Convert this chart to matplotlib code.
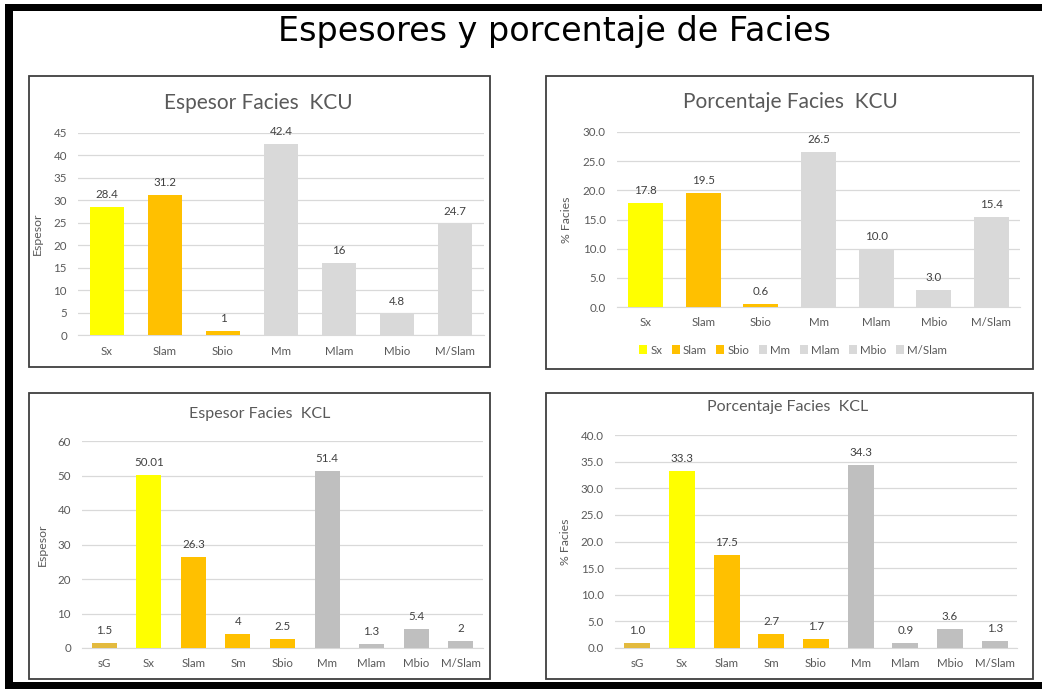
import numpy as np
import matplotlib
matplotlib.use('Agg')
import matplotlib.pyplot as plt
from matplotlib.patches import Rectangle, Patch
from matplotlib.ticker import FormatStrFormatter

W, H = 1042, 691

cats_kcu = ['Sx', 'Slam', 'Sbio', 'Mm', 'Mlam', 'Mbio', 'M/Slam']
esp_kcu = [28.4, 31.2, 1, 42.4, 16, 4.8, 24.7]
pct_kcu = [17.8, 19.5, 0.6, 26.5, 10.0, 3.0, 15.4]

cats_kcl = ['sG', 'Sx', 'Slam', 'Sm', 'Sbio', 'Mm', 'Mlam', 'Mbio', 'M/Slam']
esp_kcl = [1.5, 50.01, 26.3, 4, 2.5, 51.4, 1.3, 5.4, 2]
pct_kcl = [1.0, 33.3, 17.5, 2.7, 1.7, 34.3, 0.9, 3.6, 1.3]

YELLOW = '#FFFF00'
ORANGE = '#FFC000'
GOLD = '#E3BA3E'
LGRAY = '#D9D9D9'
MGRAY = '#BFBFBF'
TXT = '#595959'

colors_kcu = [YELLOW, ORANGE, ORANGE, LGRAY, LGRAY, LGRAY, LGRAY]
colors_kcl = [GOLD, YELLOW, ORANGE, ORANGE, ORANGE, MGRAY, MGRAY, MGRAY, MGRAY]

FONT = 'Lato'
SMALL = 8.3


def fig_box(x0, y0, x1, y1):
    # pixel box (top-left origin) -> figure fraction [left, bottom, width, height]
    return [x0 / W, 1 - y1 / H, (x1 - x0) / W, (y1 - y0) / H]


def add_rect(fig, x0, y0, x1, y1, **kw):
    l, b, w, h = fig_box(x0, y0, x1, y1)
    fig.add_artist(Rectangle((l, b), w, h, transform=fig.transFigure, zorder=-1, **kw))


def draw_panel(fig, frame, axpix, cats, vals, colors, ymax, step, fmt,
               ylabel, ylabel_x, title, title_xy, title_size, barw):
    add_rect(fig, *frame, facecolor='white', edgecolor='#3F3F3F', lw=1.3)
    ax = fig.add_axes(fig_box(*axpix))
    ax.set_zorder(5)
    ax.set_facecolor('none')
    x = np.arange(len(cats))
    ax.bar(x, vals, width=barw, color=colors, zorder=3)
    for xi, v in zip(x, vals):
        ax.annotate(fmt.format(v), (xi, v), xytext=(0, 9), textcoords='offset points',
                    ha='center', va='center', fontsize=SMALL, color='#404040', family=FONT)
    ax.set_xlim(-0.5, len(cats) - 0.5)
    ax.set_ylim(0, ymax)
    ax.set_yticks(np.arange(0, ymax + step / 2, step))
    if '.1f' in fmt:
        ax.yaxis.set_major_formatter(FormatStrFormatter('%.1f'))
    ax.set_xticks(x)
    ax.set_xticklabels(cats)
    ax.grid(axis='y', color=LGRAY, lw=0.9, zorder=0)
    ax.set_axisbelow(True)
    for s in ['top', 'right', 'left']:
        ax.spines[s].set_visible(False)
    ax.spines['bottom'].set_color(LGRAY)
    ax.tick_params(length=0, colors=TXT, labelsize=SMALL)
    ax.tick_params(axis='x', pad=7.5)
    ax.tick_params(axis='y', pad=8)
    for lab in ax.get_xticklabels() + ax.get_yticklabels():
        lab.set_family(FONT)
    ax.set_ylabel(ylabel, fontsize=SMALL + 0.5, color=TXT, family=FONT)
    ax.yaxis.set_label_coords(ylabel_x, 0.5)
    fig.text(title_xy[0] / W, 1 - title_xy[1] / H, title, ha='center', va='center',
             fontsize=title_size, color=TXT, family=FONT)
    return ax


fig = plt.figure(figsize=(W / 100, H / 100), dpi=100)
fig.patch.set_facecolor('white')

# outer black frame (top, left, bottom)
add_rect(fig, 5, 4, W, 11, facecolor='black', edgecolor='none')
add_rect(fig, 5, 4, 13, 689, facecolor='black', edgecolor='none')
add_rect(fig, 5, 682, W, 689, facecolor='black', edgecolor='none')

fig.text(554 / W, 1 - 41.5 / H, 'Espesores y porcentaje de Facies', ha='center',
         va='baseline', fontsize=24, family='DejaVu Sans', color='black')

draw_panel(fig, (29, 76, 490, 367), (78, 132.7, 484, 335.3), cats_kcu, esp_kcu,
           colors_kcu, 45, 5, '{:g}', 'Espesor', -0.086,
           'Espesor Facies  KCU', (258, 103), 15, 0.6)

draw_panel(fig, (546, 76, 1033, 369), (617, 132, 1020, 307), cats_kcu, pct_kcu,
           colors_kcu, 30, 5, '{:.1f}', '% Facies', -0.112,
           'Porcentaje Facies  KCU', (790, 102), 15, 0.61)
handles = [Patch(facecolor=c, edgecolor='none', label=n) for n, c in zip(cats_kcu, colors_kcu)]
leg = fig.legend(handles=handles, loc='center', bbox_to_anchor=(793 / W, 1 - 350 / H),
                 ncol=7, frameon=False, handlelength=0.7, handleheight=0.7,
                 handletextpad=0.3, columnspacing=0.8, prop={'family': FONT, 'size': SMALL})
for t in leg.get_texts():
    t.set_color(TXT)

draw_panel(fig, (29, 393, 490, 679), (82, 441, 483, 648), cats_kcl, esp_kcl,
           colors_kcl, 60, 10, '{:g}', 'Espesor', -0.085,
           'Espesor Facies  KCL', (260, 414), 11.5, 0.56)

draw_panel(fig, (546, 393, 1033, 679), (615, 435, 1017, 648), cats_kcl, pct_kcl,
           colors_kcl, 40, 5, '{:.1f}', '% Facies', -0.109,
           'Porcentaje Facies  KCL', (788, 407), 11.5, 0.58)

fig.savefig('out.png', dpi=100)
